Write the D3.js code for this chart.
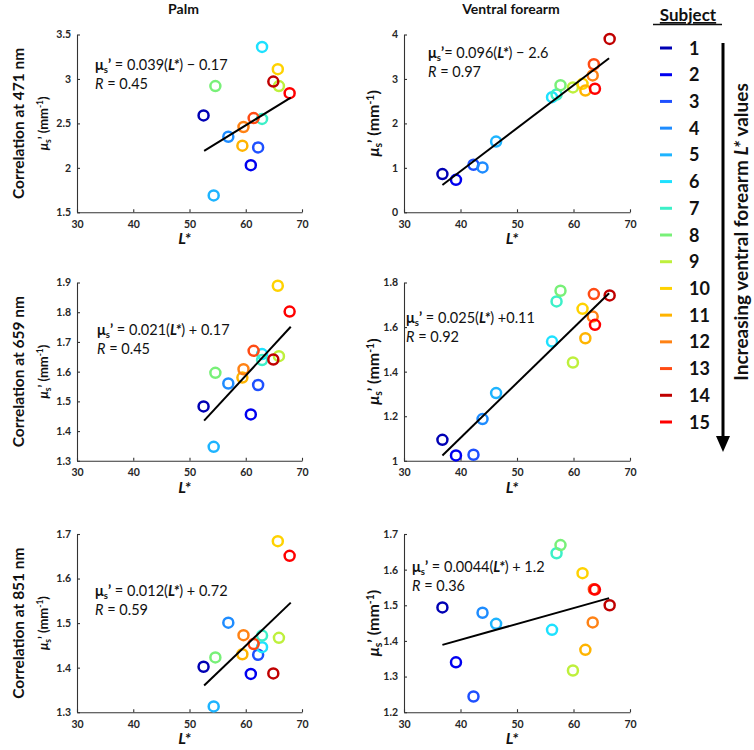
<!DOCTYPE html>
<html>
<head>
<meta charset="utf-8">
<script src="https://cdn.jsdelivr.net/npm/d3@7"></script>
<style>
  html, body { margin: 0; padding: 0; background: #fff; }
  svg { display: block; font-family: Lato, "Open Sans", sans-serif; }
</style>
</head>
<body>
<svg id="chart" width="754" height="750"></svg>
<script>
// ---------------- DATA ----------------
const subjects = [1, 2, 3, 4, 5, 6, 7, 8, 9, 10, 11, 12, 13, 14, 15];
const subjectColors = ["#0000b4", "#0000f0", "#1e50ff", "#1e8cff", "#1eb4ff", "#1ee1ff", "#3cf0c8", "#78f078",
  "#bef03c", "#ffd200", "#ffb400", "#ff8214", "#ff4b14", "#c00000", "#ff0000"];

const palmL = [52.5, 60.9, 62.2, 56.9, 54.3, 62.9, 62.9, 54.6, 65.9, 65.7, 59.4, 59.6, 61.4, 64.9, 67.8];
const forearmL = [36.8, 39.2, 42.3, 43.9, 46.3, 56.2, 57.0, 57.7, 59.9, 61.6, 62.1, 63.4, 63.6, 66.4, 63.8];

const mus471Palm = [2.59, 2.03, 2.23, 2.35, 1.69, 3.36, 2.55, 2.92, 2.92, 3.11, 2.25, 2.46, 2.56, 2.97, 2.84];
const mus471Fore = [0.86, 0.73, 1.07, 1.01, 1.59, 2.59, 2.65, 2.86, 2.81, 2.89, 2.74, 3.08, 3.33, 3.90, 2.78];
const mus659Palm = [1.483, 1.456, 1.555, 1.56, 1.347, 1.659, 1.639, 1.596, 1.652, 1.889, 1.58, 1.608, 1.67, 1.641, 1.802];
const mus659Fore = [1.094, 1.024, 1.027, 1.187, 1.304, 1.535, 1.715, 1.763, 1.441, 1.682, 1.550, 1.647, 1.748, 1.742, 1.610];
const mus851Palm = [1.402, 1.386, 1.429, 1.501, 1.313, 1.446, 1.472, 1.423, 1.467, 1.684, 1.430, 1.473, 1.453, 1.387, 1.651];
const mus851Fore = [1.494, 1.340, 1.244, 1.479, 1.448, 1.431, 1.646, 1.669, 1.317, 1.590, 1.375, 1.452, 1.545, 1.500, 1.544];

// fitted line endpoints (as drawn)
const fitPalmX = [52.6, 68.0];
const fitForeX = [36.8, 66.3];
const fit471Palm = [2.19, 2.79];
const fit471Fore = [0.615, 3.467];
const fit659Palm = [1.435, 1.751];
const fit659Fore = [1.024, 1.752];
const fit851Palm = [1.360, 1.546];
const fit851Fore = [1.389, 1.520];

// axis ticks
const xTicks = [30, 40, 50, 60, 70];
const yTicks471Palm = [1.5, 2, 2.5, 3, 3.5];
const yTicks471Fore = [0, 1, 2, 3, 4];
const yTicks659Palm = [1.3, 1.4, 1.5, 1.6, 1.7, 1.8, 1.9];
const yTicks659Fore = [1, 1.2, 1.4, 1.6, 1.8];
const yTicks851Palm = [1.3, 1.4, 1.5, 1.6, 1.7];
const yTicks851Fore = [1.2, 1.3, 1.4, 1.5, 1.6, 1.7];

// text
const columnTitles = ["Palm", "Ventral forearm"];
const rowTitles = ["Correlation at 471 nm", "Correlation at 659 nm", "Correlation at 851 nm"];
const eqSlopes = ["0.039", "0.096", "0.021", "0.025", "0.012", "0.0044"];
const eqIntercepts = [" − 0.17", " − 2.6", " + 0.17", " +0.11", " + 0.72", " + 1.2"];
const eqEquals = [" = ", "= ", " = ", " = ", " = ", " = "];
const eqR = ["0.45", "0.97", "0.45", "0.92", "0.59", "0.36"];
const legendTitle = "Subject";

// ---------------- LAYOUT ----------------
const svg = d3.select("#chart");
const cols = [{ x0: 77, x1: 302 }, { x0: 404, x1: 630 }];
const rows = [{ y0: 34.5, y1: 212.3 }, { y0: 282.5, y1: 460.8 }, { y0: 534, y1: 712.2 }];

const panels = [
  { r: 0, c: 0, x: palmL, y: mus471Palm, fx: fitPalmX, fy: fit471Palm, ticks: yTicks471Palm, eq: 0, ex: 95, ey: 70 },
  { r: 0, c: 1, x: forearmL, y: mus471Fore, fx: fitForeX, fy: fit471Fore, ticks: yTicks471Fore, eq: 1, ex: 428, ey: 58 },
  { r: 1, c: 0, x: palmL, y: mus659Palm, fx: fitPalmX, fy: fit659Palm, ticks: yTicks659Palm, eq: 2, ex: 97, ey: 335 },
  { r: 1, c: 1, x: forearmL, y: mus659Fore, fx: fitForeX, fy: fit659Fore, ticks: yTicks659Fore, eq: 3, ex: 406, ey: 323 },
  { r: 2, c: 0, x: palmL, y: mus851Palm, fx: fitPalmX, fy: fit851Palm, ticks: yTicks851Palm, eq: 4, ex: 95, ey: 596 },
  { r: 2, c: 1, x: forearmL, y: mus851Fore, fx: fitForeX, fy: fit851Fore, ticks: yTicks851Fore, eq: 5, ex: 412, ey: 572 }
];

const fmt = v => String(+v.toFixed(2));

panels.forEach(p => {
  const col = cols[p.c], row = rows[p.r];
  const x = d3.scaleLinear().domain([30, 70]).range([col.x0, col.x1]);
  const y = d3.scaleLinear().domain([p.ticks[0], p.ticks[p.ticks.length - 1]]).range([row.y1, row.y0]);
  const g = svg.append("g");

  // axes
  const xa = g.append("g").attr("transform", `translate(0,${row.y1})`)
    .call(d3.axisBottom(x).tickValues(xTicks).tickSizeInner(-3).tickSizeOuter(0).tickPadding(8).tickFormat(d3.format("d")));
  const ya = g.append("g").attr("transform", `translate(${col.x0},0)`)
    .call(d3.axisLeft(y).tickValues(p.ticks).tickSizeInner(-3).tickSizeOuter(0).tickPadding(6).tickFormat(fmt));
  [xa, ya].forEach(a => {
    a.select(".domain").attr("stroke", "#333").attr("stroke-width", 1.1);
    a.selectAll(".tick line").attr("stroke", "#333").attr("stroke-width", 1.1);
    a.selectAll(".tick text").attr("fill", "#262626").attr("font-size", "10.5px").attr("font-weight", "bold")
      .attr("font-family", "Lato, sans-serif");
  });

  // points
  g.append("g").selectAll("circle").data(subjects).join("circle")
    .attr("cx", (d, i) => x(p.x[i]))
    .attr("cy", (d, i) => y(p.y[i]))
    .attr("r", 5)
    .attr("fill", "none")
    .attr("stroke", (d, i) => subjectColors[i])
    .attr("stroke-width", 2.5);

  // fit line
  g.append("line")
    .attr("x1", x(p.fx[0])).attr("y1", y(p.fy[0]))
    .attr("x2", x(p.fx[1])).attr("y2", y(p.fy[1]))
    .attr("stroke", "#000").attr("stroke-width", 2);

  // equation
  const e = p.eq;
  const t1 = g.append("text").attr("x", p.ex).attr("y", p.ey).attr("font-size", "14.5px").attr("fill", "#111");
  t1.append("tspan").attr("font-weight", "bold").text("μ");
  t1.append("tspan").attr("font-weight", "bold").attr("font-size", "9.5px").attr("dy", 3).text("s");
  t1.append("tspan").attr("font-weight", "bold").attr("dy", -3).text("’");
  t1.append("tspan").text(eqEquals[e] + eqSlopes[e] + "(");
  t1.append("tspan").attr("font-weight", "bold").attr("font-style", "italic").text("L*");
  t1.append("tspan").text(")" + eqIntercepts[e]);

  const t2 = g.append("text").attr("x", p.ex).attr("y", p.ey + 19).attr("font-size", "14.5px").attr("fill", "#111");
  t2.append("tspan").attr("font-style", "italic").text("R");
  t2.append("tspan").text(" = " + eqR[e]);

  // x label
  const xl = g.append("text").attr("x", (col.x0 + col.x1) / 2 - 5).attr("y", row.y1 + 32)
    .attr("text-anchor", "middle").attr("font-size", "16px").attr("font-weight", "bold").attr("font-style", "italic")
    .attr("fill", "#111").text("L*");

  // y label
  const cy = (row.y0 + row.y1) / 2;
  const lx = p.c === 0 ? 48 : 379;
  const fs = p.c === 0 ? 13 : 16;
  const yl = g.append("text").attr("transform", `translate(${lx},${cy}) rotate(-90)`)
    .attr("text-anchor", "middle").attr("font-size", fs + "px").attr("font-weight", "bold").attr("fill", "#111");
  yl.append("tspan").attr("font-style", "italic").text("μ");
  yl.append("tspan").attr("font-size", (fs * 0.65) + "px").attr("dy", 3).text("s");
  yl.append("tspan").attr("dy", -3).text("’ (mm");
  yl.append("tspan").attr("font-size", (fs * 0.65) + "px").attr("dy", -5).text("-1");
  yl.append("tspan").attr("dy", 5).text(")");
});

// column titles
columnTitles.forEach((t, i) => {
  svg.append("text").attr("x", (cols[i].x0 + cols[i].x1) / 2 - 6).attr("y", 14)
    .attr("text-anchor", "middle").attr("font-size", "14px").attr("font-weight", "bold").attr("fill", "#111").text(t);
});

// row titles
rowTitles.forEach((t, i) => {
  const cy = (rows[i].y0 + rows[i].y1) / 2;
  svg.append("text").attr("transform", `translate(24,${cy}) rotate(-90)`)
    .attr("text-anchor", "middle").attr("font-size", "15.5px").attr("font-weight", "bold").attr("fill", "#111").text(t);
});

// legend
const lg = svg.append("g");
lg.append("text").attr("x", 688).attr("y", 21).attr("text-anchor", "middle").attr("font-size", "17px")
  .attr("font-weight", "bold").attr("fill", "#111").attr("text-decoration", "underline").text(legendTitle);
lg.append("line").attr("x1", 653).attr("x2", 722).attr("y1", 24.5).attr("y2", 24.5).attr("stroke", "#111").attr("stroke-width", 1.3);
const ly = d3.scalePoint().domain(subjects).range([48, 422]);
const items = lg.selectAll("g.item").data(subjects).join("g").attr("class", "item")
  .attr("transform", d => `translate(0,${ly(d)})`);
items.append("line").attr("x1", 660).attr("x2", 672).attr("y1", 0).attr("y2", 0)
  .attr("stroke", (d, i) => subjectColors[i]).attr("stroke-width", 3);
items.append("text").attr("x", 689).attr("y", 6.5).attr("font-size", "18px").attr("font-weight", "bold")
  .attr("fill", "#111").text(d => d);

// arrow
lg.append("line").attr("x1", 723).attr("x2", 723).attr("y1", 43).attr("y2", 438)
  .attr("stroke", "#000").attr("stroke-width", 3);
lg.append("path").attr("d", "M716,436 L730,436 L723,452 Z").attr("fill", "#000");
const at = lg.append("text").attr("transform", "translate(748,232) rotate(-90)").attr("text-anchor", "middle")
  .attr("font-size", "19px").attr("font-weight", "bold").attr("fill", "#111");
at.append("tspan").text("Increasing ventral forearm ");
at.append("tspan").attr("font-style", "italic").text("L*");
at.append("tspan").text(" values");
</script>
</body>
</html>
